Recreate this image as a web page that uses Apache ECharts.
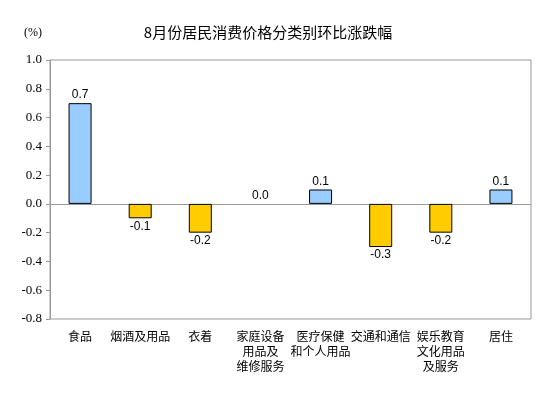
<!DOCTYPE html>
<html>
<head>
<meta charset="utf-8">
<script src="https://cdn.jsdelivr.net/npm/echarts@6/dist/echarts.min.js"></script>
<style>
html, body { margin: 0; padding: 0; background: #fff; }
#chart { width: 554px; height: 398px; }
</style>
</head>
<body>
<div id="chart"></div>
<script>
var categories = ['食品', '烟酒及用品', '衣着', '家庭设备\n用品及\n维修服务', '医疗保健\n和个人用品', '交通和通信', '娱乐教育\n文化用品\n及服务', '居住'];
var values = [0.7, -0.1, -0.2, 0.0, 0.1, -0.3, -0.2, 0.1];
var yTicks = [-0.8, -0.6, -0.4, -0.2, 0.0, 0.2, 0.4, 0.6, 0.8, 1.0];

var myChart = echarts.init(document.getElementById('chart'));
var barData = values.map(function (v) {
    return {
        value: v,
        itemStyle: {
            color: v < 0 ? '#FFCC00' : '#99CCFF',
            borderWidth: v === 0 ? 0 : 1
        },
        label: { position: v < 0 ? 'bottom' : 'top' }
    };
});
var option = {
    animation: false,
    title: {
        text: '8月份居民消费价格分类别环比涨跌幅',
        left: 263,
        textAlign: 'center',
        top: 20,
        textStyle: { fontFamily: 'Noto Sans CJK SC', fontSize: 15, fontWeight: 'normal', color: '#000' }
    },
    graphic: [{
        type: 'text',
        left: 24,
        top: 27,
        style: { text: '(%)', font: '12px "Liberation Serif"', fill: '#000' }
    }],
    grid: {
        left: 50, right: 23, top: 60, bottom: 79,
        show: true, borderColor: '#999', borderWidth: 1
    },
    xAxis: {
        type: 'category',
        data: categories,
        axisLine: { onZero: true, lineStyle: { color: '#999' } },
        axisTick: { show: false },
        axisLabel: {
            interval: 0,
            margin: 10,
            color: '#000',
            fontFamily: 'Noto Sans CJK SC',
            fontSize: 12,
            lineHeight: 15
        }
    },
    yAxis: {
        type: 'value',
        min: yTicks[0],
        max: yTicks[yTicks.length - 1],
        interval: 0.2,
        axisLine: { show: true, lineStyle: { color: '#999' } },
        axisTick: { show: true, length: 4, lineStyle: { color: '#999' } },
        splitLine: { show: false },
        axisLabel: {
            color: '#000',
            fontFamily: 'Liberation Serif',
            fontSize: 13,
            margin: 8,
            formatter: function (v) { return v.toFixed(1); }
        }
    },
    series: [{
        type: 'bar',
        data: barData,
        barWidth: 23,
        itemStyle: { borderColor: '#000' },
        label: {
            show: true,
            color: '#000',
            fontFamily: 'Liberation Sans',
            fontSize: 12,
            distance: 2,
            formatter: function (p) { return p.value.toFixed(1); }
        }
    }]
};
myChart.setOption(option);
</script>
</body>
</html>
